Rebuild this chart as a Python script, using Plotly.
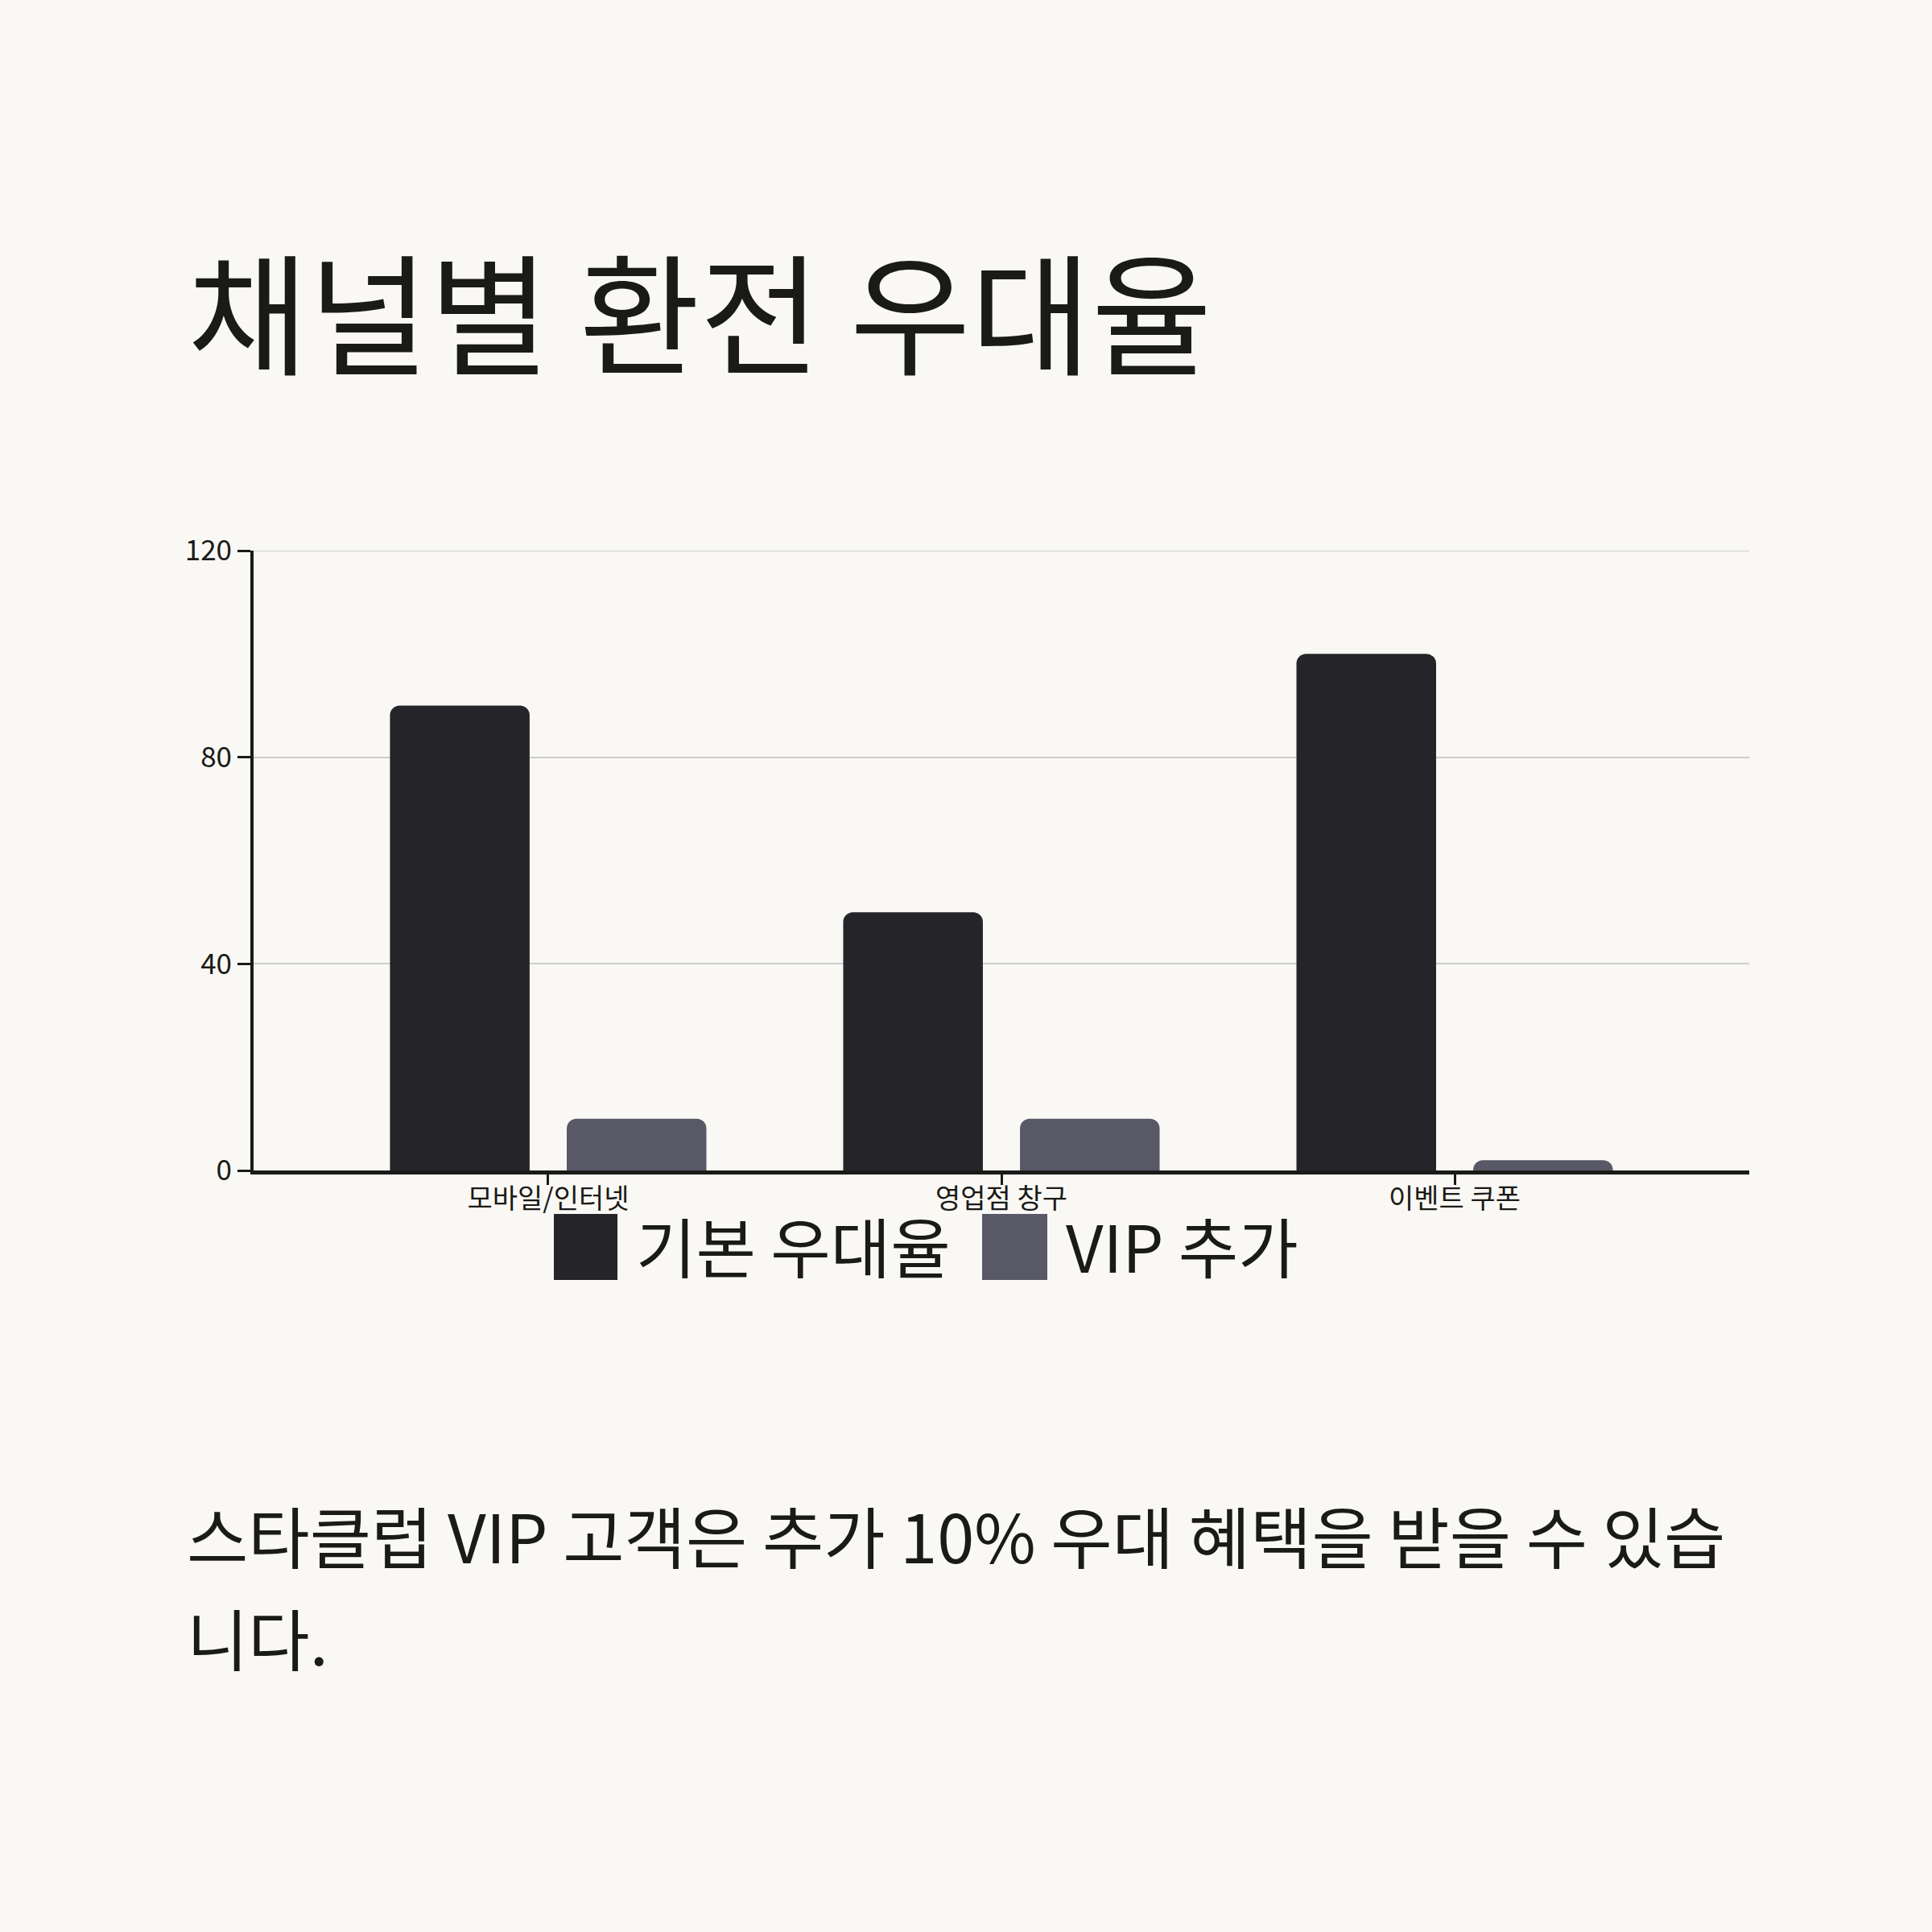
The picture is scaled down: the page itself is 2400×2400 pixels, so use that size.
import plotly.graph_objects as go

# data
channels = ["모바일/인터넷", "영업점 창구", "이벤트 쿠폰"]
base_rate = [90, 50, 100]
vip_extra = [10, 10, 2]
series_names = ["기본 우대율", "VIP 추가"]
y_ticks = [0, 40, 80, 120]

title_text = "채널별 환전 우대율"
note_lines = ["스타클럽 VIP 고객은 추가 10% 우대 혜택을 받을 수 있습", "니다."]

BG = "#f9f8f4"
INK = "#1a1a17"
GRID = "#cdcdcb"
C_BASE = "#242429"
C_VIP = "#585866"
FONT = "Noto Sans CJK KR"

W, H = 2400, 2400
L, R, T, B = 315, 227, 684, 946


# pixel -> paper coords
def px(x):
    return (x - L) / (W - L - R)


def py(y):
    return 1 - (y - T) / (H - T - B)


fig = go.Figure()
fig.add_trace(go.Bar(x=channels, y=base_rate, name=series_names[0],
                     marker=dict(color=C_BASE, cornerradius=12, line=dict(width=0))))
fig.add_trace(go.Bar(x=channels, y=vip_extra, name=series_names[1],
                     marker=dict(color=C_VIP, cornerradius=12, line=dict(width=0))))

fig.update_layout(
    width=W, height=H,
    margin=dict(l=L, r=R, t=T, b=B),
    paper_bgcolor=BG, plot_bgcolor=BG,
    barmode="group", bargap=0.22, bargroupgap=0.21,
    showlegend=False,
    font=dict(family=FONT, color=INK, size=30),
    title=dict(text=title_text, xref="container", yref="container",
               x=233 / W, xanchor="left", y=1 - 396 / H, yanchor="middle",
               font=dict(family=FONT, size=163, color=INK)),
)

fig.update_xaxes(range=[-0.65, 2.65], showline=True, linecolor=INK, linewidth=5,
                 ticks="outside", ticklen=13, tickwidth=3, tickcolor=INK,
                 ticklabelstandoff=-12,
                 tickfont=dict(size=34, color=INK), showgrid=False, zeroline=False)
fig.update_yaxes(range=[0, 120], tickvals=y_ticks, showline=True, linecolor=INK,
                 linewidth=4, ticks="outside", ticklen=16, tickwidth=3, tickcolor=INK,
                 tickfont=dict(size=35, color=INK), gridcolor=GRID, gridwidth=2,
                 zeroline=False)

# top gridline (plotly drops the one on the range edge)
fig.add_hline(y=y_ticks[-1], line=dict(color=GRID, width=2), layer="below")

# legend, drawn by hand so the swatches can be large
legend_items = [(688, 767, 788, C_BASE, series_names[0]),
                (1220, 1301, 1322, C_VIP, series_names[1])]
for x0, x1, tx, col, name in legend_items:
    fig.add_shape(type="rect", xref="paper", yref="paper",
                  x0=px(x0), x1=px(x1), y0=py(1590), y1=py(1508),
                  fillcolor=col, line=dict(width=0), layer="above")
    fig.add_annotation(text=name, xref="paper", yref="paper", x=px(tx), y=py(1545),
                       xanchor="left", yanchor="middle", showarrow=False,
                       font=dict(family=FONT, size=81, color=INK))

for line, yc in zip(note_lines, [1906, 2033]):
    fig.add_annotation(text=line, xref="paper", yref="paper", x=px(230), y=py(yc),
                       xanchor="left", yanchor="middle", align="left", showarrow=False,
                       font=dict(family=FONT, size=83, color=INK))

fig.write_html("out.html", config={"displayModeBar": False},
               post_script="document.body.style.margin='0';")
